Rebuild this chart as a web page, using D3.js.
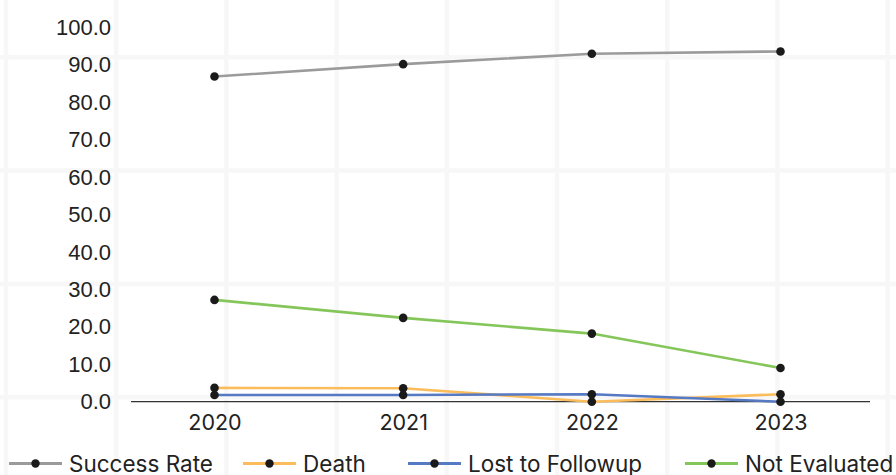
<!DOCTYPE html>
<html>
<head>
<meta charset="utf-8">
<script src="https://cdn.jsdelivr.net/npm/d3@7"></script>
<style>
  html, body { margin: 0; padding: 0; background: #ffffff; }
  svg { display: block; }
</style>
</head>
<body>
<svg id="chart" width="896" height="475"></svg>
<script>
// ---- data ----
const years = ["2020", "2021", "2022", "2023"];
const successRate = [86.9, 90.2, 93.0, 93.6];
const death = [3.7, 3.6, 0.0, 2.0];
const lostToFollowup = [1.8, 1.8, 2.0, 0.0];
const notEvaluated = [27.2, 22.4, 18.2, 9.0];
const seriesNames = ["Success Rate", "Death", "Lost to Followup", "Not Evaluated"];
const seriesColors = ["#9b9b9b", "#fbbc5c", "#5679c3", "#84c65a"];
const yTicks = [0, 10, 20, 30, 40, 50, 60, 70, 80, 90, 100];

const seriesValues = [successRate, death, lostToFollowup, notEvaluated];

const W = 896, H = 475;
const svg = d3.select("#chart");

// background tile grid
const bg = svg.append("g");
const vx = d3.range(0, 9).map(i => 6 + i * 110.2);
const hy = d3.range(0, 4).map(i => 57.3 + i * 113.3);
bg.selectAll("line.v").data(vx).join("line")
  .attr("x1", d => d).attr("x2", d => d).attr("y1", 0).attr("y2", H)
  .attr("stroke", "#f7f7f7").attr("stroke-width", 4.5);
bg.selectAll("line.h").data(hy).join("line")
  .attr("x1", 0).attr("x2", W).attr("y1", d => d).attr("y2", d => d)
  .attr("stroke", "#f7f7f7").attr("stroke-width", 4.5);

// scales
const x = d3.scalePoint().domain(years).range([214.5, 780.5]);
const y = d3.scaleLinear().domain([0, 100]).range([401.7, 27.5]);

// y axis (labels only)
const yAxis = d3.axisLeft(y).tickValues(yTicks).tickFormat(d3.format(".1f")).tickSize(0).tickPadding(0);
const gy = svg.append("g").attr("transform", "translate(111,0)").call(yAxis);
gy.select(".domain").remove();
gy.selectAll("text")
  .attr("font-family", "'Liberation Sans', Arial, sans-serif")
  .attr("font-size", 22).attr("fill", "#222").attr("dy", "0.32em");

// x axis baseline
svg.append("line")
  .attr("x1", 131).attr("x2", 870).attr("y1", y(0)).attr("y2", y(0))
  .attr("stroke", "#333").attr("stroke-width", 1.3);

const xAxis = d3.axisBottom(x).tickSize(0).tickPadding(0);
const gx = svg.append("g").attr("transform", `translate(0,${y(0)})`).call(xAxis);
gx.select(".domain").remove();
gx.selectAll("text")
  .attr("font-family", "Inter, 'Noto Sans', sans-serif")
  .attr("font-size", 21.5).attr("fill", "#222").attr("dy", null).attr("y", 28.5);

// lines
const line = d3.line().x((d, i) => x(years[i])).y(d => y(d));
const gLines = svg.append("g");
seriesValues.forEach((vals, s) => {
  gLines.append("path").datum(vals)
    .attr("d", line).attr("fill", "none")
    .attr("stroke", seriesColors[s]).attr("stroke-width", 2.6)
    .attr("stroke-linejoin", "round");
});
seriesValues.forEach((vals, s) => {
  gLines.selectAll(null).data(vals).join("circle")
    .attr("cx", (d, i) => x(years[i])).attr("cy", d => y(d))
    .attr("r", 4.3).attr("fill", "#1a1a1a");
});

// legend
const legendX = [9, 243, 408, 685];
const legY = 463.5;
const lg = svg.append("g");
seriesNames.forEach((name, s) => {
  const g = lg.append("g").attr("transform", `translate(${legendX[s]},${legY})`);
  g.append("line").attr("x1", 0).attr("x2", 53).attr("y1", 0).attr("y2", 0)
    .attr("stroke", seriesColors[s]).attr("stroke-width", 3);
  g.append("circle").attr("cx", 26.5).attr("cy", 0).attr("r", 4.2).attr("fill", "#1a1a1a");
  g.append("text").attr("x", 60).attr("y", 0).attr("dy", "0.36em")
    .attr("font-family", "Inter, 'Noto Sans', sans-serif")
    .attr("font-size", 22.5).attr("fill", "#222").text(name);
});
</script>
</body>
</html>
